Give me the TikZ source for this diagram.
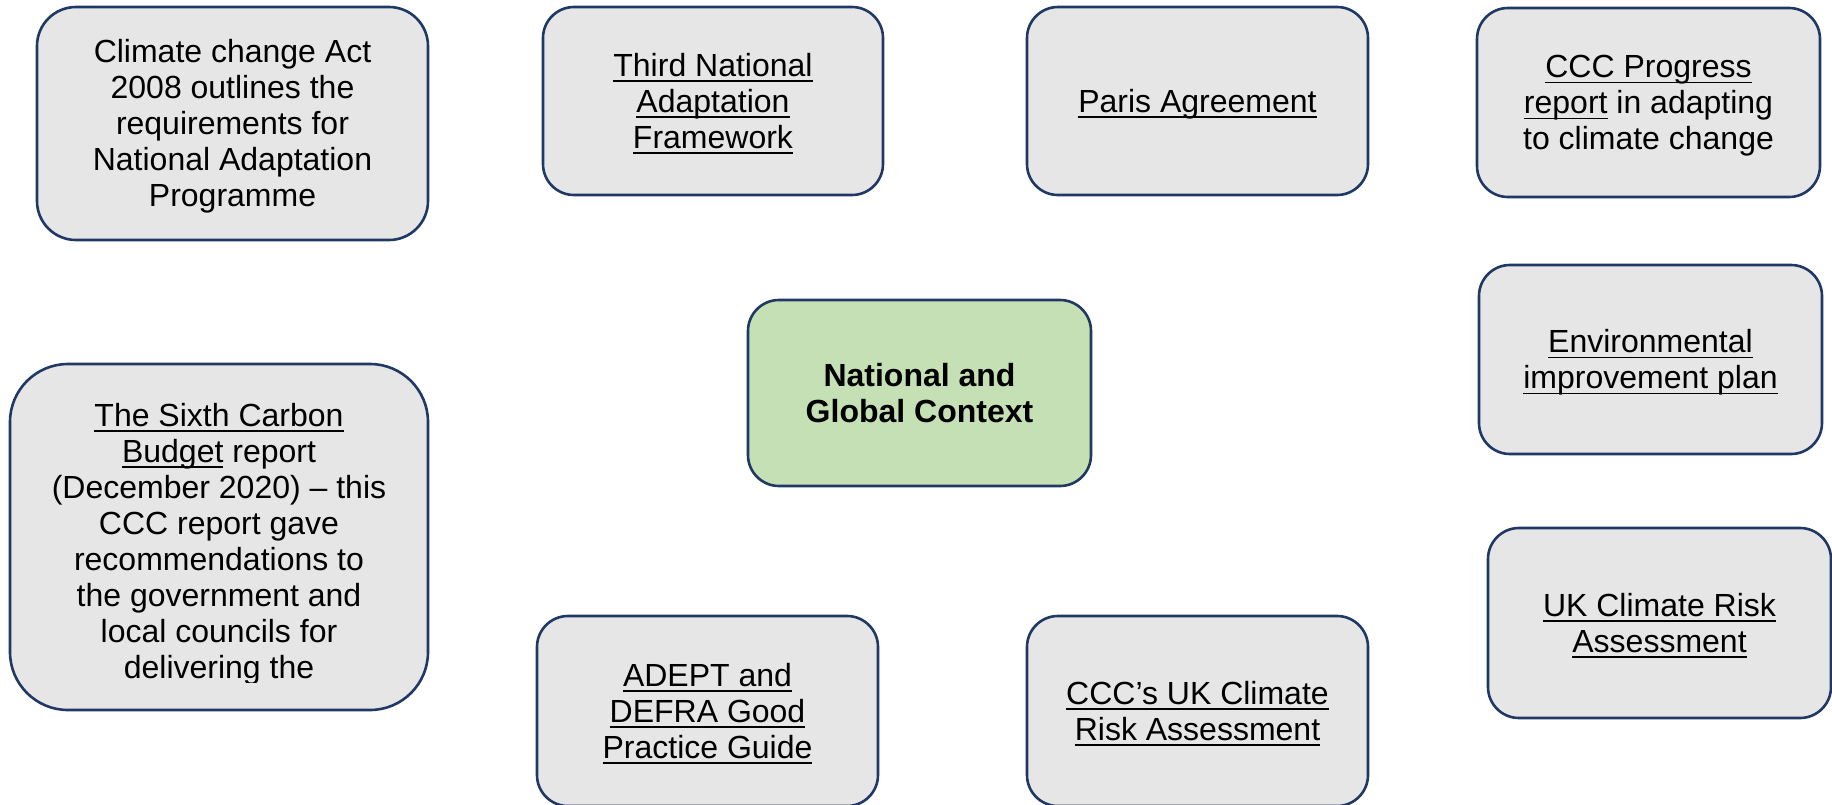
\documentclass[tikz,border=0pt]{standalone}
\usepackage{fontspec}
\setmainfont{Liberation Sans}
\newsavebox{\ulnkbox}
\newcommand{\ulnk}[1]{\sbox{\ulnkbox}{#1}\rlap{\rule[-2.9pt]{\wd\ulnkbox}{0.9pt}}\usebox{\ulnkbox}}
\newcommand{\ts}{\rule[-3.4pt]{0pt}{17.9pt}}
\definecolor{boxline}{HTML}{1F3864}
\definecolor{boxfill}{HTML}{E7E6E6}
\definecolor{hubfill}{HTML}{C5E0B4}
\tikzset{boxtext/.style = {align=center, font=\fontsize{16}{18}\selectfont}}
\tikzset{infobox/.style = {boxtext, shape=rectangle, draw=boxline, fill=boxfill, line width=1.3pt, rounded corners=15.5pt}}
\tikzset{hubbox/.style = {infobox, fill=hubfill, font=\fontsize{16}{18}\selectfont\bfseries}}

\begin{document}
\begin{tikzpicture}[x=0.5pt, y=-0.5pt]
                \useasboundingbox (0,0) rectangle (1832,804);
                \clip (0,0) rectangle (1832,804);

                \node[hubbox, minimum width=171.5pt, minimum height=93pt] (context) at (919.5,393) {\ts National and\\Global Context\ts};

                \node[infobox, rounded corners=19.5pt, minimum width=195.5pt, minimum height=116.5pt] (climateact) at (232.5,123.5) {\ts Climate change Act\\2008 outlines the\\requirements for\\National Adaptation\\Programme\ts};
                \node[infobox, minimum width=170pt, minimum height=94pt] (thirdnaf) at (713,101) {\ts\ulnk{Third National}\\\ulnk{Adaptation}\\\ulnk{Framework}\ts};
                \node[infobox, minimum width=170.5pt, minimum height=94pt] (paris) at (1197.5,101) {\ts\ulnk{Paris Agreement}\ts};
                \node[infobox, minimum width=171.5pt, minimum height=94.5pt] (cccprogress) at (1648.5,102.5) {\ts\ulnk{CCC Progress}\\\ulnk{report} in adapting\\to climate change\ts};
                \node[infobox, minimum width=171.5pt, minimum height=94.5pt] (envplan) at (1650.5,359.5) {\ts\ulnk{Environmental}\\\ulnk{improvement plan}\ts};
                \node[infobox, minimum width=171.5pt, minimum height=95pt] (ukcra) at (1659.5,623) {\ts\ulnk{UK Climate Risk}\\\ulnk{Assessment}\ts};
                \node[infobox, minimum width=170.5pt, minimum height=95pt] (cccukcra) at (1197.5,711) {\ts\ulnk{CCC’s UK Climate}\\\ulnk{Risk Assessment}\ts};
                \node[infobox, minimum width=170.5pt, minimum height=95pt] (adept) at (707.5,711) {\ts\ulnk{ADEPT and}\\\ulnk{DEFRA Good}\\\ulnk{Practice Guide}\ts};

                % text runs past the box and is cut off
                \node[infobox, rounded corners=29pt, minimum width=209pt, minimum height=173pt] (sixthbudget) at (219,537) {};
                \begin{scope}
                    \clip (10,364) rectangle (428,682);
                    \node[boxtext] (sixthtext) at (219,541) {\ts\ulnk{The Sixth Carbon}\\\ulnk{Budget} report\\(December 2020) – this\\CCC report gave\\recommendations to\\the government and\\local councils for\\delivering the\ts};
                \end{scope}
            \end{tikzpicture}
\end{document}
